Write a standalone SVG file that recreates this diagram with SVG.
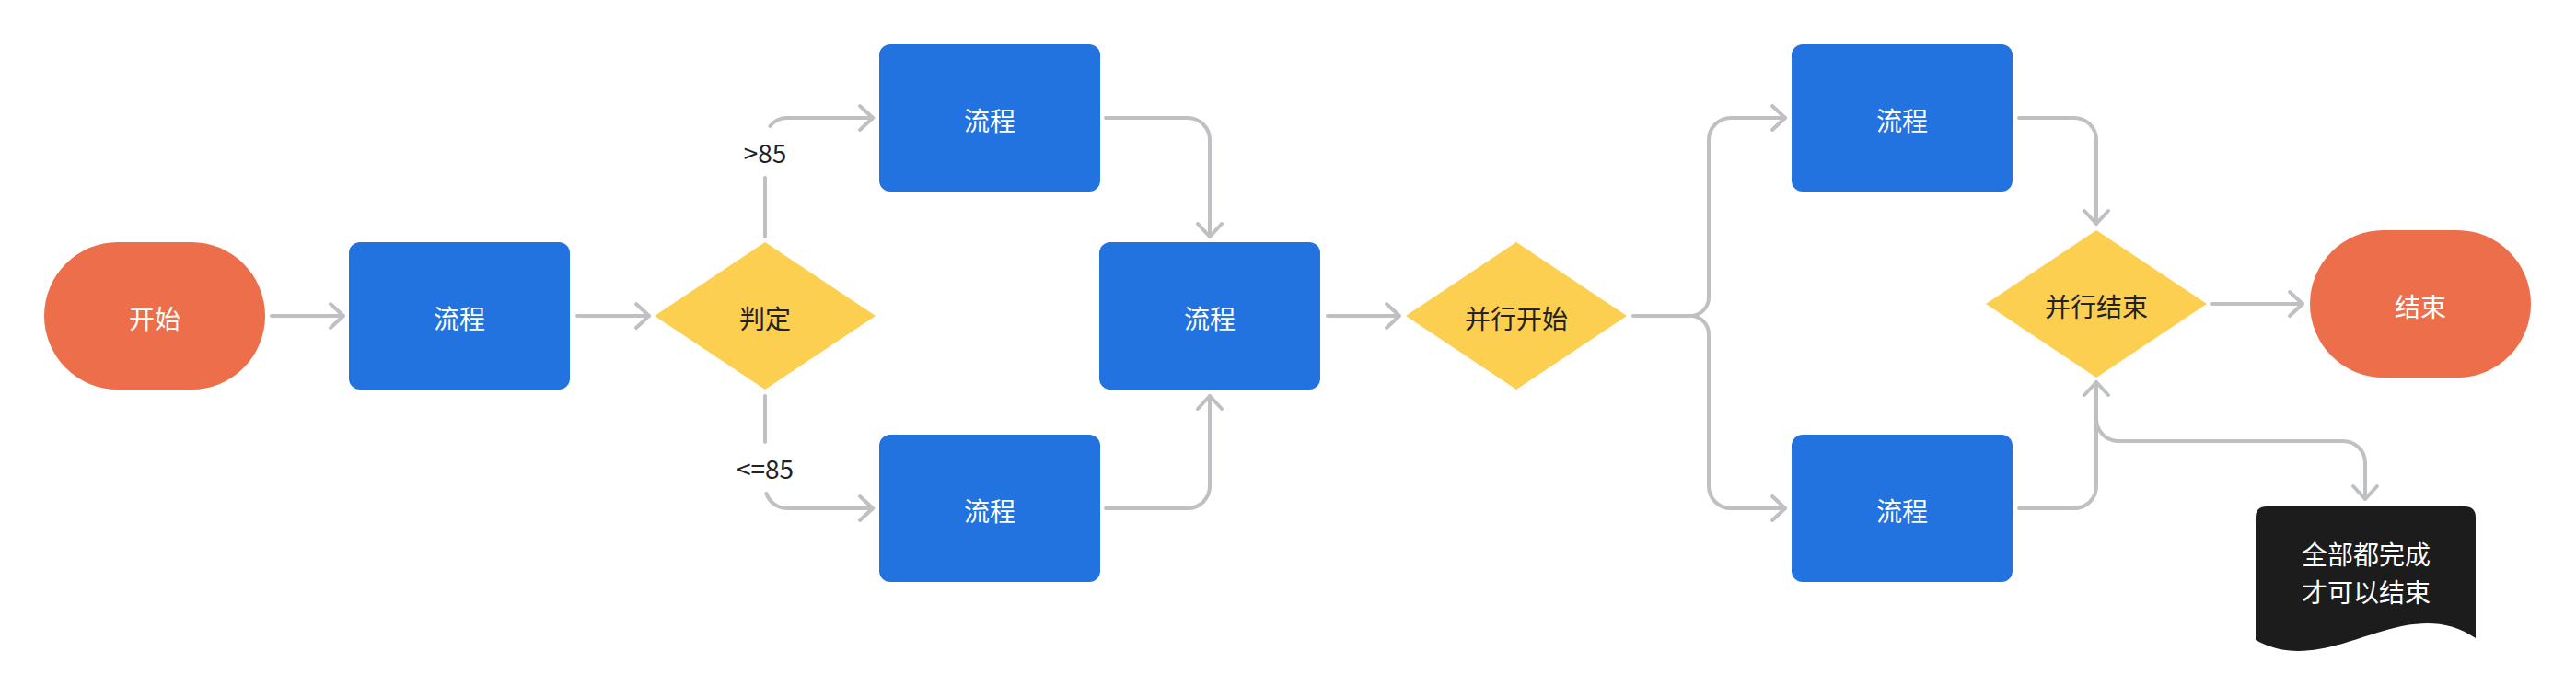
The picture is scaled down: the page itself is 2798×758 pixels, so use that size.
<svg xmlns="http://www.w3.org/2000/svg" width="2798" height="758" viewBox="0 0 2798 758">
<style>
.term{fill:#ED6E4A}
.proc{fill:#2272E0}
.dec{fill:#FCCF51}
.doc{fill:#1C1C1C}
.conn{fill:none;stroke:#BEC0C4;stroke-width:4;stroke-linecap:round;stroke-linejoin:round}
.arrow{marker-end:url(#arr)}
text{font-family:"Noto Sans CJK SC","Noto Sans",sans-serif;font-size:28px;text-anchor:middle;dominant-baseline:central}
.lt{fill:#FFFFFF}
.dk{fill:#222222}
</style>
<defs>
<marker id="arr" markerUnits="userSpaceOnUse" viewBox="-18 -16 22 32" refX="0" refY="0" markerWidth="22" markerHeight="32" orient="auto">
<path d="M-14 -13 L0 0 L-14 13" fill="none" stroke="#BEC0C4" stroke-width="4" stroke-linecap="round" stroke-linejoin="round"/>
</marker>
</defs>
<rect width="2798" height="758" fill="#FFFFFF"/>
<g id="connectors">
<path class="conn arrow" d="M295 343 H373"/>
<path class="conn arrow" d="M627 343 H705"/>
<path class="conn" d="M831 257 V193"/>
<path class="conn arrow" d="M836.3 137 A24 24 0 0 1 855 128 H948"/>
<path class="conn" d="M831 430 V480"/>
<path class="conn arrow" d="M832.4 536 A24 24 0 0 0 855 552 H948"/>
<path class="conn arrow" d="M1201 128 H1290 A24 24 0 0 1 1314 152 V257"/>
<path class="conn arrow" d="M1201 552 H1290 A24 24 0 0 0 1314 528 V430"/>
<path class="conn arrow" d="M1442 343 H1520"/>
<path class="conn arrow" d="M1774 343 H1836 A20 20 0 0 0 1856 323 V152 A24 24 0 0 1 1880 128 H1939"/>
<path class="conn arrow" d="M1836 343 A20 20 0 0 1 1856 363 V528 A24 24 0 0 0 1880 552 H1939"/>
<path class="conn arrow" d="M2193 128 H2253 A24 24 0 0 1 2277 152 V243"/>
<path class="conn arrow" d="M2193 552 H2253 A24 24 0 0 0 2277 528 V415"/>
<path class="conn arrow" d="M2277 455 A24 24 0 0 0 2301 479 H2545 A24 24 0 0 1 2569 503 V542"/>
<path class="conn arrow" d="M2403 330 H2501"/>
<text class="dk" x="831" y="165">&gt;85</text>
<text class="dk" x="831" y="508">&lt;=85</text>
</g>
<g id="start">
<rect class="term" x="48" y="263" width="240" height="160" rx="80" ry="80"/>
<text class="lt" x="168" y="345">开始</text>
</g>
<g id="proc1">
<rect class="proc" x="379" y="263" width="240" height="160" rx="12"/>
<text class="lt" x="499" y="345">流程</text>
</g>
<g id="decision1">
<polygon class="dec" points="831,263 951,343 831,423 711,343"/>
<text class="dk" x="831" y="345">判定</text>
</g>
<g id="procTop">
<rect class="proc" x="955" y="48" width="240" height="160" rx="12"/>
<text class="lt" x="1075" y="130">流程</text>
</g>
<g id="procBottom">
<rect class="proc" x="955" y="472" width="240" height="160" rx="12"/>
<text class="lt" x="1075" y="554">流程</text>
</g>
<g id="procMid">
<rect class="proc" x="1194" y="263" width="240" height="160" rx="12"/>
<text class="lt" x="1314" y="345">流程</text>
</g>
<g id="parStart">
<polygon class="dec" points="1647,263 1767,343 1647,423 1527,343"/>
<text class="dk" x="1647" y="345">并行开始</text>
</g>
<g id="procRTop">
<rect class="proc" x="1946" y="48" width="240" height="160" rx="12"/>
<text class="lt" x="2066" y="130">流程</text>
</g>
<g id="procRBottom">
<rect class="proc" x="1946" y="472" width="240" height="160" rx="12"/>
<text class="lt" x="2066" y="554">流程</text>
</g>
<g id="parEnd">
<polygon class="dec" points="2277,250 2397,330 2277,410 2157,330"/>
<text class="dk" x="2277" y="332">并行结束</text>
</g>
<g id="end">
<rect class="term" x="2509" y="250" width="240" height="160" rx="80" ry="80"/>
<text class="lt" x="2629" y="332">结束</text>
</g>
<g id="note">
<path class="doc" d="M2462 550 H2677 Q2689 550 2689 562 V693 C2610 640 2530 740 2450 695 V562 Q2450 550 2462 550 Z"/>
<text class="lt" x="2570" y="601">全部都完成</text>
<text class="lt" x="2570" y="642">才可以结束</text>
</g>
</svg>
